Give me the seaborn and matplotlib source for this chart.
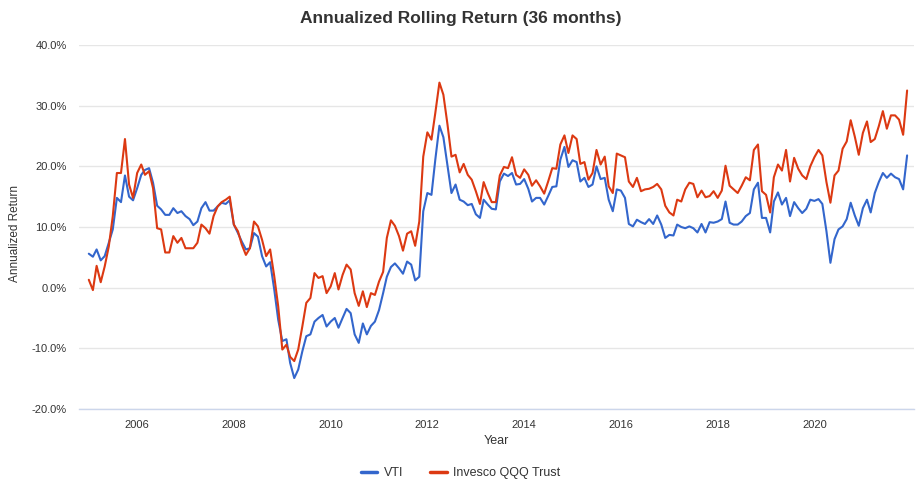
import pandas as pd
import numpy as np
import seaborn as sns
import matplotlib.pyplot as plt
import matplotlib.dates as mdates

# monthly 36-month annualized rolling returns, in percent
vti = [5.6, 5.1, 6.3, 4.5, 5.2, 7.4, 9.6, 14.8, 14.1, 18.5, 15.0, 14.4, 16.4, 18.6, 19.4, 19.7, 17.3, 13.5, 12.9, 12.0,
       12.0, 13.1, 12.3, 12.6, 11.8, 11.3, 10.3, 10.9, 13.1, 14.1, 12.7, 12.7, 13.4, 14.0,
       13.8, 14.4, 10.4, 9.0, 7.6, 6.3, 6.5, 9.0, 8.4, 5.2, 3.5, 4.2, -0.3, -5.3, -8.8, -8.5, -12.4, -14.9, -13.5, -10.5,
       -8.0, -7.7, -5.6, -5.0, -4.5, -6.4, -5.6, -5.0, -6.6, -5.0, -3.5, -4.2,
       -7.7, -9.1, -5.9, -7.7, -6.3, -5.6, -3.7, -0.9, 1.8, 3.4, 4.0, 3.2, 2.3, 4.3, 3.8, 1.2, 1.8, 12.6, 15.6, 15.3,
       21.1, 26.7, 24.8, 20.1, 15.6, 17.0, 14.5, 14.2, 13.6, 13.8, 12.1, 11.5, 14.5,
       13.7, 13.0, 12.9, 17.5, 18.8, 18.4, 18.9, 17.0, 17.1, 17.9, 16.3, 14.2, 14.8, 14.8, 13.7, 15.1, 16.6, 16.7, 21.1,
       23.2, 19.9, 21.0, 20.7, 17.5, 18.1, 16.6, 17.0, 20.0, 17.9, 18.1, 14.5, 12.6, 16.2, 16.0, 14.8,
       10.5, 10.1, 11.2, 10.8, 10.5, 11.3, 10.5, 11.9, 10.4, 8.2, 8.7, 8.6, 10.4, 10.0, 9.8, 10.1, 9.8,
       9.1, 10.5, 9.1, 10.8, 10.7, 10.9, 11.3, 14.2, 10.7, 10.4, 10.4, 10.9, 11.8, 12.3, 16.2, 17.3, 11.5, 11.5, 9.1, 14.2,
       15.7, 13.7, 14.8, 11.8, 14.1, 13.1, 12.3, 13.0, 14.5, 14.3, 14.6, 13.8, 9.3, 4.1, 8.0, 9.6, 10.1, 11.3, 14.0,
       11.9, 10.2, 13.1, 14.5, 12.4, 15.6, 17.4, 18.9, 18.1, 18.8, 18.2, 17.9, 16.2, 21.8]

qqq = [1.3, -0.4, 3.6, 0.9, 3.5, 6.8, 11.8, 18.9, 18.9, 24.5, 17.0, 14.8, 18.9, 20.3, 18.6, 19.2, 16.4, 9.8, 9.6, 5.8,
       5.8, 8.5, 7.4, 8.2, 6.5, 6.5, 6.5, 7.4, 10.4, 9.8, 8.9, 11.8, 13.4, 14.1,
       14.5, 15.0, 10.4, 9.3, 7.1, 5.4, 6.5, 10.9, 10.1, 7.9, 5.2, 6.3, 1.9, -3.1, -10.2, -9.4, -11.4, -12.1, -10.2, -6.4,
       -2.5, -1.7, 2.4, 1.6, 1.9, -0.9, 0.2, 2.4, -0.3, 2.1, 3.8, 3.0,
       -0.9, -3.0, -0.6, -3.2, -0.9, -1.2, 1.0, 2.6, 8.2, 11.1, 10.2, 8.5, 6.1, 8.9, 9.3, 6.9, 10.9, 21.6, 25.6, 24.4,
       28.8, 33.8, 31.8, 26.9, 21.6, 21.9, 19.0, 20.4, 18.6, 17.8, 15.9, 13.8, 17.4,
       15.6, 14.1, 14.1, 18.5, 19.9, 19.7, 21.5, 18.6, 18.1, 19.5, 18.6, 16.8, 17.7, 16.7, 15.5, 17.5, 19.7, 19.6, 23.6,
       25.1, 22.2, 25.1, 24.5, 20.4, 20.7, 17.8, 18.9, 22.7, 20.3, 21.6, 16.7, 15.6, 22.1, 21.8, 21.5,
       17.5, 16.6, 18.1, 15.9, 16.2, 16.3, 16.6, 17.1, 16.2, 13.5, 12.4, 11.9, 14.5, 14.2, 16.2, 17.3, 17.1,
       14.9, 16.0, 14.9, 15.1, 15.9, 14.8, 16.0, 20.1, 16.8, 16.2, 15.6, 16.8, 18.2, 17.7, 22.7, 23.6, 15.9, 15.3, 12.4, 18.2,
       20.3, 19.3, 22.7, 17.5, 21.4, 19.6, 18.5, 17.9, 20.0, 21.5, 22.7, 21.8, 17.4, 14.0, 18.5, 19.3, 22.9, 24.1, 27.6,
       24.9, 21.9, 25.5, 27.4, 24.0, 24.5, 26.6, 29.1, 26.2, 28.4, 28.4, 27.7, 25.2, 32.5]

series_names = ['VTI', 'Invesco QQQ Trust']
colors = ['#3366cc', '#dc3912']
tick_years = [2006, 2008, 2010, 2012, 2014, 2016, 2018, 2020]
dates = pd.date_range('2005-01-01', periods=len(vti), freq='MS')

df = pd.concat([
    pd.DataFrame({'date': dates, 'ret': vti, 'fund': series_names[0]}),
    pd.DataFrame({'date': dates, 'ret': qqq, 'fund': series_names[1]}),
])

sns.set_style('white')
plt.rcParams['font.family'] = ['Liberation Sans', 'DejaVu Sans']

fig = plt.figure(figsize=(9.21, 4.9), dpi=100)
ax = fig.add_axes([79 / 921, 1 - 409 / 490, (914 - 79) / 921, (409 - 45) / 490])

sns.lineplot(data=df, x='date', y='ret', hue='fund', palette=colors, linewidth=1.5, ax=ax, legend=False)

ax.set_ylim(-20, 40)
ax.set_yticks(np.arange(-20, 41, 10))
ax.set_yticklabels(['%.1f%%' % v for v in np.arange(-20, 41, 10)], fontsize=8, color='#333333')
ax.set_xlim(pd.Timestamp('2004-10-19'), pd.Timestamp('2022-01-22'))
ax.set_xticks([pd.Timestamp('%d-01-01' % y) for y in tick_years])
ax.xaxis.set_major_formatter(mdates.DateFormatter('%Y'))
ax.tick_params(axis='x', labelsize=8, labelcolor='#333333', length=5, width=1, color='#ccd6eb', pad=3)
ax.tick_params(axis='y', length=0, pad=9)
ax.set_xlabel('')
ax.set_ylabel('')

ax.grid(axis='y', color='#e6e6e6', linewidth=1)
ax.grid(axis='x', visible=False)
for s in ['left', 'right', 'top']:
    ax.spines[s].set_visible(False)
ax.spines['bottom'].set_color('#ccd6eb')
ax.spines['bottom'].set_linewidth(1)

fig.text(0.5, 1 - 18 / 490, 'Annualized Rolling Return (36 months)', ha='center', va='center',
         fontsize=12.5, fontweight='bold', color='#333333')
fig.text(15 / 921, 1 - 233 / 490, 'Annualized Return', rotation=90, ha='center', va='center',
         fontsize=8.5, color='#333333')
fig.text(496 / 921, 1 - 441 / 490, 'Year', ha='center', va='center', fontsize=9, color='#333333')

handles = [plt.Line2D([], [], color=c, linewidth=2.5) for c in colors]
fig.legend(handles, series_names, loc='center', bbox_to_anchor=(0.5, 1 - 473 / 490), ncol=2,
           frameon=False, fontsize=9, handlelength=1.3, handletextpad=0.5, columnspacing=2.2,
           labelcolor='#333333')

plt.savefig('out.png', dpi=100)
